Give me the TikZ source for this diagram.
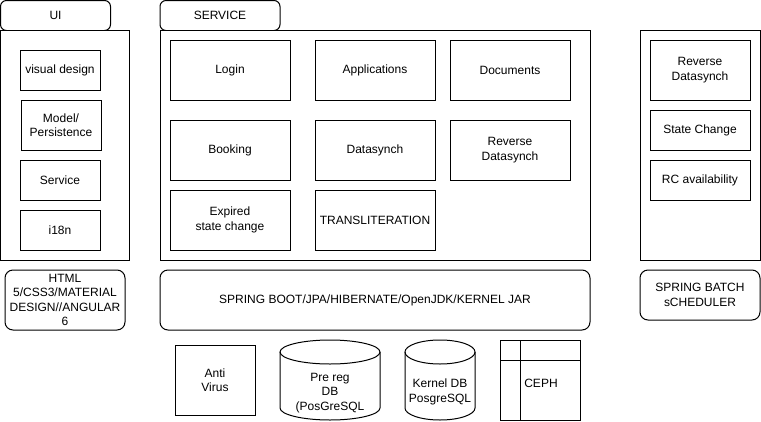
\documentclass[tikz,border=0pt]{standalone}
\usepackage{fontspec}
\setmainfont{Liberation Sans}
\begin{document}
\begin{tikzpicture}[x=1pt,y=-1pt,line width=1pt,
  every node/.style={font=\fontsize{12}{14.5}\selectfont,align=center,inner sep=0pt,outer sep=0pt},
  blk/.style={draw,minimum width=#1},
  wh/.style 2 args={draw,minimum width=#1,minimum height=#2},
  rwh/.style 2 args={draw,rounded corners=8pt,minimum width=#1,minimum height=#2},
  tabbox/.style={draw,rounded corners=6pt,minimum width=#1,minimum height=30}]
\useasboundingbox (0,0) rectangle (761,421);
% UI
\node[tabbox=110] (uitab) at (55.5,15.5) {UI};
\node[wh={129}{230},fill=white] (uibox) at (65,145) {};
\node[wh={80}{40}] (visual) at (60,70) {visual design};
\node[wh={80}{50}] (model) at (61,125) {Model/\\Persistence};
\node[wh={80}{40}] (uiservice) at (60,180) {Service};
\node[wh={80}{40}] (i18n) at (60,230) {i18n};
\node[rwh={120}{60}] (html) at (65,300) {HTML\\5/CSS3/MATERIAL\\DESIGN//ANGULAR\\6};
% SERVICE
\node[tabbox=120] (svctab) at (220,15.5) {SERVICE};
\node[wh={430}{230},fill=white] (svcbox) at (375,145) {};
\node[wh={120}{60}] (login) at (230,70) {Login};
\node[wh={120}{60}] (apps) at (375,70) {Applications};
\node[wh={120}{60}] (docs) at (510,70) {Documents};
\node[wh={120}{60}] (booking) at (230,150) {Booking};
\node[wh={120}{60}] (dsync) at (375,150) {Datasynch};
\node[wh={120}{60}] (revds) at (510,150) {Reverse\\Datasynch};
\node[wh={120}{60}] (expired) at (230,220) {Expired\\state change};
\node[wh={120}{60}] (translit) at (375,220) {TRANSLITERATION};
\node[rwh={430}{60}] (spring) at (375,300) {SPRING BOOT/JPA/HIBERNATE/OpenJDK/KERNEL JAR};
% Right
\node[wh={120}{230}] (batchbox) at (700,145) {};
\node[wh={100}{60}] (rrev) at (700,70) {Reverse\\Datasynch};
\node[wh={100}{40}] (state) at (700,130) {State Change};
\node[wh={100}{40}] (rc) at (700,180) {RC availability};
\node[rwh={120}{50}] (batch) at (700,295) {SPRING BATCH\\sCHEDULER};
% Bottom
\node[wh={80}{70}] (av) at (215,380) {Anti\\Virus};
% Pre reg DB cylinder
\draw (330,352) ellipse [x radius=50, y radius=12];
\draw (280,352) -- (280,408) .. controls (280,414.6) and (302.4,420) .. (330,420)
      .. controls (357.6,420) and (380,414.6) .. (380,408) -- (380,352);
\node (prereg) at (330,393) {Pre reg\\DB\\(PosGreSQL};
% Kernel DB cylinder
\draw (440,352) ellipse [x radius=35, y radius=12];
\draw (405,352) -- (405,408) .. controls (405,414.6) and (420.7,420) .. (440,420)
      .. controls (459.3,420) and (475,414.6) .. (475,408) -- (475,352);
\node (kerneldb) at (440,392) {Kernel DB\\PosgreSQL};
% CEPH
\node[wh={80}{80}] (cephbox) at (540,380) {};
\draw (520,340) -- (520,420);
\draw (500,360) -- (580,360);
\node (ceph) at (541,383) {CEPH};
\end{tikzpicture}
\end{document}
